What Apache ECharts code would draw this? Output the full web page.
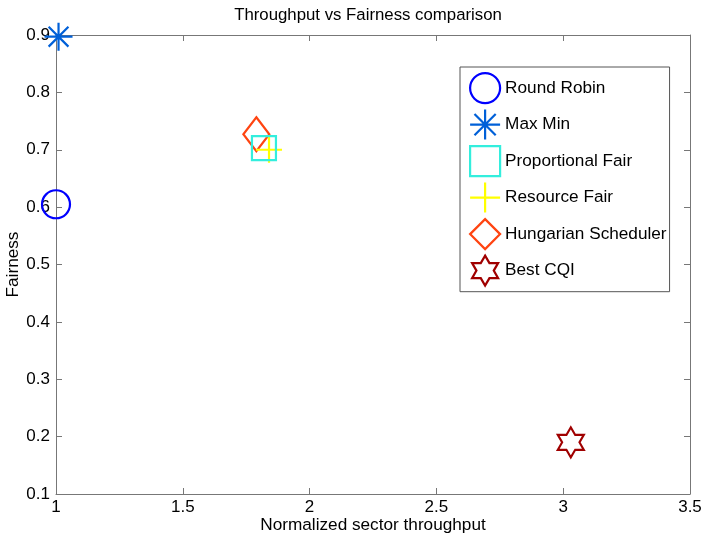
<!DOCTYPE html>
<html><head><meta charset="utf-8">
<script src="https://cdn.jsdelivr.net/npm/echarts@6/dist/echarts.min.js"></script>
<style>html,body{margin:0;padding:0;background:#fff}#c{width:703px;height:537px}</style>
</head><body><div id="c"></div>
<script>
const seriesNames = ['Round Robin','Max Min','Proportional Fair','Resource Fair','Hungarian Scheduler','Best CQI'];
const throughput = [1.0, 1.01, 1.82, 1.84, 1.79, 3.03];
const fairness = [0.605, 0.897, 0.703, 0.700, 0.727, 0.19];
const colors = ['#0000ff','#0060d8','#33eedd','#ffff00','#ff4411','#a00000'];
const xTicks = [1, 1.5, 2, 2.5, 3, 3.5];
const yTicks = [0.1,0.2,0.3,0.4,0.5,0.6,0.7,0.8,0.9];

const symbols = [
  'circle',
  'path://M0,-1L0,1M-1,0L1,0M-0.707,-0.707L0.707,0.707M-0.707,0.707L0.707,-0.707',
  'rect',
  'path://M-1,0L1,0M0,-1L0,1',
  'diamond',
  'path://M0,-1L0.2887,-0.5L0.866,-0.5L0.5774,0L0.866,0.5L0.2887,0.5L0,1L-0.2887,0.5L-0.866,0.5L-0.5774,0L-0.866,-0.5L-0.2887,-0.5Z'
];
const sizes = [[28,28],[28,28],[24,24],[26,26],[26,34],[26,30]];

const font = 'Liberation Sans, Arial, sans-serif';
const chart = echarts.init(document.getElementById('c'));
const series = seriesNames.map((n,i)=>({
  name:n, type:'scatter', xAxisIndex:0, yAxisIndex:0,
  data:[[throughput[i], fairness[i]]],
  symbol:symbols[i], symbolSize:sizes[i],
  itemStyle:{color:'rgba(0,0,0,0)', borderColor:colors[i], borderWidth:2.2, opacity:1},
  emphasis:{disabled:true}, z: 10 - i
}));
const axisCommon = {
  axisLine:{show:true, lineStyle:{color:'#777', width:1}},
  axisTick:{show:true, inside:true, length:6, lineStyle:{color:'#777'}},
  splitLine:{show:false}
};
chart.setOption({
  animation:false,
  title:{text:'Throughput vs Fairness comparison', left:363, top:2, textAlign:'center',
    textStyle:{fontFamily:font, fontSize:16.8, fontWeight:'normal', color:'#000'}},
  grid:{left:56, right:13, top:35, bottom:43, outerBoundsMode:'none', containLabel:false},
  legend:{
    orient:'vertical', left:460, top:67, padding:[5,3,5,9],
    itemWidth:30, itemHeight:30, itemGap:4.3,
    backgroundColor:'#fff', borderColor:'#555', borderWidth:1,
    textStyle:{fontFamily:font, fontSize:17.2, color:'#000'},
    data: seriesNames.map((n,i)=>({name:n, icon:symbols[i],
      itemStyle:{color:'rgba(0,0,0,0)', borderColor:colors[i], borderWidth:2.2, opacity:1}}))
  },
  xAxis:[
    Object.assign({type:'value', position:'bottom', min:1, max:3.5, interval:0.5,
      name:'Normalized sector throughput', nameLocation:'middle', nameGap:23,
      nameMoveOverlap:false,
      nameTextStyle:{fontFamily:font, fontSize:17.2, color:'#000'},
      axisLabel:{fontFamily:font, fontSize:17, color:'#000', margin:5}}, axisCommon),
    Object.assign({type:'value', position:'top', min:1, max:3.5, interval:0.5,
      axisLabel:{show:false}}, axisCommon)
  ],
  yAxis:[
    Object.assign({type:'value', position:'left', min:0.1, max:0.9, interval:0.1,
      name:'Fairness', nameLocation:'middle', nameGap:34, nameRotate:90,
      nameMoveOverlap:false,
      nameTextStyle:{fontFamily:font, fontSize:17.2, color:'#000'},
      axisLabel:{fontFamily:font, fontSize:17, color:'#000', margin:6,
        formatter:v=>(Math.round(v*10)/10).toString()}}, axisCommon),
    Object.assign({type:'value', position:'right', min:0.1, max:0.9, interval:0.1,
      axisLabel:{show:false}}, axisCommon)
  ],
  series: series
});
</script></body></html>
